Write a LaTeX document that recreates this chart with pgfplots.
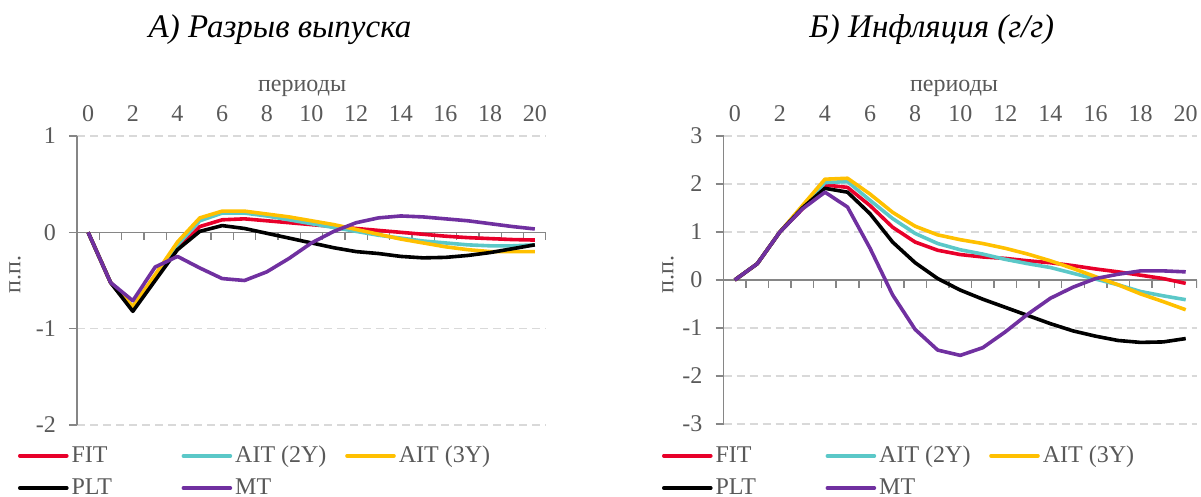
\documentclass[border=0pt]{standalone}
\usepackage{fontspec}
\setmainfont{Liberation Serif}
\usepackage{pgfplots}
\pgfplotsset{compat=1.18}
\definecolor{cFIT}{RGB}{232,0,42}
\definecolor{cAIT2}{RGB}{91,200,200}
\definecolor{cAIT3}{RGB}{255,192,0}
\definecolor{cPLT}{RGB}{0,0,0}
\definecolor{cMT}{RGB}{112,48,160}
\definecolor{txtgray}{RGB}{89,89,89}
\definecolor{axgray}{RGB}{134,134,134}
\definecolor{gridgray}{RGB}{217,217,217}

\pgfplotstableread{
x FIT AITa AITb PLT MT
0 0 0 0 0 0
1 -0.52 -0.52 -0.52 -0.52 -0.52
2 -0.80 -0.78 -0.77 -0.82 -0.71
3 -0.47 -0.46 -0.44 -0.50 -0.36
4 -0.17 -0.13 -0.10 -0.18 -0.25
5 0.06 0.12 0.15 0.01 -0.37
6 0.13 0.20 0.22 0.07 -0.48
7 0.14 0.20 0.22 0.04 -0.50
8 0.12 0.17 0.19 -0.01 -0.41
9 0.10 0.13 0.16 -0.06 -0.27
10 0.08 0.09 0.12 -0.11 -0.11
11 0.06 0.05 0.08 -0.16 0.01
12 0.04 0.01 0.03 -0.20 0.10
13 0.02 -0.03 -0.02 -0.22 0.15
14 0.00 -0.06 -0.07 -0.25 0.17
15 -0.02 -0.09 -0.11 -0.265 0.16
16 -0.04 -0.11 -0.15 -0.26 0.14
17 -0.055 -0.13 -0.18 -0.24 0.12
18 -0.065 -0.14 -0.20 -0.21 0.09
19 -0.075 -0.14 -0.20 -0.17 0.06
20 -0.08 -0.13 -0.20 -0.13 0.035
}\gap

\pgfplotstableread{
x FIT AITa AITb PLT MT
0 0 0 0 0 0
1 0.34 0.34 0.34 0.34 0.34
2 1.00 1.00 1.00 1.00 1.00
3 1.48 1.50 1.55 1.50 1.48
4 1.98 2.03 2.10 1.91 1.83
5 1.93 2.05 2.12 1.83 1.52
6 1.55 1.66 1.79 1.38 0.66
7 1.10 1.28 1.41 0.79 -0.31
8 0.79 0.97 1.12 0.36 -1.03
9 0.62 0.76 0.94 0.03 -1.46
10 0.53 0.63 0.84 -0.21 -1.57
11 0.48 0.54 0.76 -0.40 -1.41
12 0.45 0.43 0.66 -0.57 -1.08
13 0.40 0.34 0.54 -0.74 -0.71
14 0.36 0.26 0.40 -0.91 -0.38
15 0.30 0.14 0.24 -1.06 -0.15
16 0.23 0.02 0.07 -1.17 0.03
17 0.17 -0.10 -0.10 -1.26 0.12
18 0.10 -0.24 -0.29 -1.30 0.19
19 0.03 -0.33 -0.45 -1.29 0.19
20 -0.07 -0.41 -0.62 -1.22 0.17
}\infl

\pgfplotsset{
  myaxis/.style={
    scale only axis,
    xmin=-0.5, xmax=20.5,
    axis x line=top, axis y line=left,
    x axis line style={draw=none},
    y axis line style={-, draw=axgray, line width=0.75pt},
    xtick={0,2,...,20},
    xticklabels={0,2,4,6,8,10,12,14,16,18,20},
    xtick style={draw=none},
    ytick style={draw=axgray, line width=0.75pt},
    tick align=outside, major tick length=4pt,
    ymajorgrids,
    grid style={draw=gridgray, line width=0.75pt, dash pattern=on 4pt off 2.5pt},
    tick label style={font=\fontsize{12}{14}\selectfont, text=txtgray},
    yticklabel style={xshift=-3pt},
    xticklabel style={yshift=-0.5pt},
    label style={font=\fontsize{12}{14}\selectfont, text=txtgray},
    xlabel={периоды},
    ylabel={п.п.},
    title style={font=\fontsize{16.5}{18}\selectfont\itshape, text=black, anchor=center},
    legend columns=3,
    legend style={draw=none, fill=none, inner sep=0pt, outer sep=0pt,
      font=\fontsize{12}{14}\selectfont, text=txtgray,
      column sep=0pt, row sep=6.5pt,
      nodes={inner sep=0pt, anchor=west}},
    legend image code/.code={\draw[#1, line cap=round] (0pt,0pt) -- (23.5pt,0pt);},
    every axis plot/.append style={line width=1.8pt, line join=round, mark=none},
  }
}

\begin{document}
\begin{tikzpicture}
\path[use as bounding box] (0pt,0pt) rectangle (600.5pt,-248.5pt);

\begin{axis}[myaxis,
  at={(38.5pt,-212.5pt)}, anchor=south west,
  width=234.5pt, height=144.5pt,
  ymin=-2, ymax=1, ytick={-2,-1,0,1}, yticklabels={-2,-1,0,1},
  title={А) Разрыв выпуска},
  title style={at={(axis description cs:0.433,1)}, yshift=47pt},
  xlabel style={at={(axis description cs:0.48,1)}, anchor=center, yshift=24pt},
  ylabel style={at={(axis description cs:-0.132,0.52)}, anchor=center},
  legend style={at={(axis description cs:0,0)}, anchor=north west, xshift=-29.5pt, yshift=-10.5pt},
]
\draw[axgray, line width=0.75pt] (axis cs:-0.5,0) -- (axis cs:20.5,0);
\pgfplotsinvokeforeach{0,...,20}{\draw[axgray, line width=0.75pt] (axis cs:#1.5,0) -- ++(0pt,-4pt);}
\addplot[cFIT] table[x=x,y=FIT]{\gap};
\addplot[cAIT2] table[x=x,y=AITa]{\gap};
\addplot[cAIT3] table[x=x,y=AITb]{\gap};
\addplot[cPLT] table[x=x,y=PLT]{\gap};
\addplot[cMT] table[x=x,y=MT]{\gap};
\addlegendentry{\hspace{1.5pt}\makebox[55pt][l]{FIT}}
\addlegendentry{\hspace{1.5pt}\makebox[55pt][l]{AIT (2Y)}}
\addlegendentry{\hspace{1.5pt}\makebox[55pt][l]{AIT (3Y)}}
\addlegendentry{\hspace{1.5pt}\makebox[55pt][l]{PLT}}
\addlegendentry{\hspace{1.5pt}\makebox[55pt][l]{MT}}
\end{axis}

\begin{axis}[myaxis,
  at={(361.75pt,-212pt)}, anchor=south west,
  width=236.75pt, height=144pt,
  ymin=-3, ymax=3, ytick={-3,-2,-1,0,1,2,3}, yticklabels={-3,-2,-1,0,1,2,3},
  title={Б) Инфляция (г/г)},
  title style={at={(axis description cs:0.44,1)}, yshift=47pt},
  xlabel style={at={(axis description cs:0.487,1)}, anchor=center, yshift=24pt},
  ylabel style={at={(axis description cs:-0.117,0.52)}, anchor=center},
  legend style={at={(axis description cs:0,0)}, anchor=north west, xshift=-30.75pt, yshift=-11pt},
]
\draw[axgray, line width=0.75pt] (axis cs:-0.5,0) -- (axis cs:20.5,0);
\pgfplotsinvokeforeach{0,...,20}{\draw[axgray, line width=0.75pt] (axis cs:#1.5,0) -- ++(0pt,-4pt);}
\addplot[cFIT] table[x=x,y=FIT]{\infl};
\addplot[cAIT2] table[x=x,y=AITa]{\infl};
\addplot[cAIT3] table[x=x,y=AITb]{\infl};
\addplot[cPLT] table[x=x,y=PLT]{\infl};
\addplot[cMT] table[x=x,y=MT]{\infl};
\addlegendentry{\hspace{1.5pt}\makebox[55pt][l]{FIT}}
\addlegendentry{\hspace{1.5pt}\makebox[55pt][l]{AIT (2Y)}}
\addlegendentry{\hspace{1.5pt}\makebox[55pt][l]{AIT (3Y)}}
\addlegendentry{\hspace{1.5pt}\makebox[55pt][l]{PLT}}
\addlegendentry{\hspace{1.5pt}\makebox[55pt][l]{MT}}
\end{axis}
\end{tikzpicture}
\end{document}
